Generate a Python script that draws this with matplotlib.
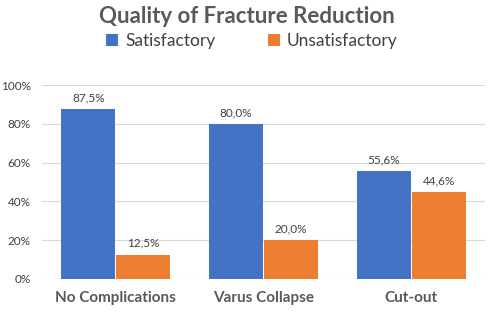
import matplotlib.pyplot as plt
import numpy as np

categories = ["No Complications", "Varus Collapse", "Cut-out"]
satisfactory = [87.5, 80.0, 55.6]
unsatisfactory = [12.5, 20.0, 44.6]
yticks = [0, 20, 40, 60, 80, 100]

plt.rcParams['font.family'] = ['Lato', 'DejaVu Sans']

fig = plt.figure(figsize=(4.89, 3.13), dpi=100)
ax = fig.add_axes([0.086, 0.109, 0.906, 0.619])

x = np.arange(len(categories))
w = 0.365
b1 = ax.bar(x - w / 2 - 0.004, satisfactory, w, color='#4472C4', label='Satisfactory', zorder=3)
b2 = ax.bar(x + w / 2 + 0.004, unsatisfactory, w, color='#ED7D31', label='Unsatisfactory', zorder=3)

for bars, vals in [(b1, satisfactory), (b2, unsatisfactory)]:
    for r, v in zip(bars, vals):
        ax.text(r.get_x() + r.get_width() / 2, v + 3, f"{v:.1f}%".replace('.', ','),
                ha='center', va='bottom', fontsize=8.5, color='#404040')

ax.set_xlim(-0.5, 2.5)
ax.set_ylim(0, 100)
ax.set_yticks(yticks)
ax.set_yticklabels([f"{t}%" for t in yticks], fontsize=8.5, color='#404040')
ax.set_xticks(x)
ax.set_xticklabels(categories, fontsize=11, fontweight='bold', color='#595959')
ax.tick_params(length=0, pad=8)
ax.tick_params(axis='x', pad=9)
ax.grid(axis='y', color='#d9d9d9', linewidth=0.8, zorder=0)
for s in ax.spines.values():
    s.set_visible(False)

fig.text(0.505, 0.948, "Quality of Fracture Reduction", ha='center', va='center',
         fontsize=16, fontweight='bold', color='#595959')
fig.legend(handles=[b1, b2], loc='center', bbox_to_anchor=(0.515, 0.87), ncol=2,
           frameon=False, fontsize=12.5, handlelength=0.7, handleheight=0.7,
           columnspacing=3.0, handletextpad=0.4, labelcolor='#404040')

fig.savefig('out.png', dpi=100)
